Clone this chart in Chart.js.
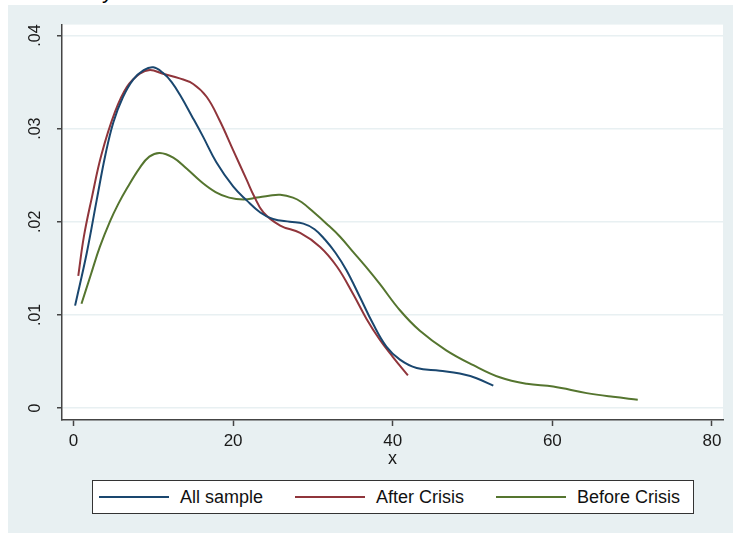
<!DOCTYPE html>
<html>
<head>
<meta charset="utf-8">
<script src="https://cdn.jsdelivr.net/npm/chart.js@4.4.1/dist/chart.umd.min.js"></script>
<style>
	html, body { margin:0; padding:0; width:733px; height:533px; overflow:hidden; background:#fff; font-family:'Liberation Sans', Arial, sans-serif; }
	.cutTitle { position:absolute; left:102px; top:-20px; font-size:22px; line-height:22px; color:#000; }
	.graphWrap { position:absolute; left:8px; top:5px; width:725px; height:528px; background:#e8f0f2; }
	.graphWrap canvas { position:absolute; left:0; top:0; }
	.graphLegendBox { position:absolute; left:84px; top:475px; width:600px; height:32px; border:1px solid #333; background:#fff; }
	.graphLegendBox ul { list-style:none; margin:0; padding:0 0 0 6px; height:100%; display:flex; align-items:center; }
	.graphLegendBox li { display:flex; align-items:center; margin-right:32px; font-size:18px; color:#111; white-space:nowrap; }
	.graphLegendBox li span { display:inline-block; width:70px; height:2px; margin-right:11px; }
</style>
</head>
<body>
<div class="cutTitle">y</div>
<div class="graphWrap" id="wrap">
	<canvas id="densityChart" width="725" height="528"></canvas>
</div>
<script>
// curves
var allX = [0.2, 1.65, 2.9, 4.0, 5.0, 6.2, 7.5, 8.8, 10.0, 11.2, 12.3, 13.5, 14.8, 16.2, 17.9, 20.0, 21.7, 23.4, 25.0, 27.1, 28.8, 30.2, 31.5, 32.8, 34.2, 35.9, 37.5, 39.2, 40.9, 43.0, 45.9, 48.4, 50.5, 52.6];
var allY = [0.0110, 0.0166, 0.0223, 0.0272, 0.0307, 0.0334, 0.0353, 0.0363, 0.0366, 0.0360, 0.0350, 0.0334, 0.0314, 0.0292, 0.0264, 0.0238, 0.0223, 0.0210, 0.0203, 0.0200, 0.0198, 0.0192, 0.0181, 0.0167, 0.0148, 0.0119, 0.0091, 0.0066, 0.0052, 0.0043, 0.0040, 0.0037, 0.0032, 0.0024];

var afterX = [0.6, 1.3, 2.3, 3.5, 5.2, 6.7, 8.3, 9.6, 11.2, 13.3, 15.0, 16.7, 18.3, 20.0, 21.7, 22.6, 23.8, 25.9, 28.4, 30.9, 33.0, 35.0, 36.7, 38.4, 40.0, 41.9];
var afterY = [0.0142, 0.0184, 0.0226, 0.0272, 0.0318, 0.0345, 0.0359, 0.0363, 0.0359, 0.0354, 0.0348, 0.0334, 0.0309, 0.0277, 0.0245, 0.0228, 0.0210, 0.0196, 0.0188, 0.0173, 0.0152, 0.0123, 0.0096, 0.0073, 0.0055, 0.0035];

var beforeX = [1.0, 2.2, 3.3, 4.6, 5.6, 6.7, 8.3, 9.5, 10.8, 12.5, 14.2, 16.0, 17.8, 19.5, 21.3, 23.0, 24.5, 25.9, 27.5, 28.6, 30.0, 31.7, 33.4, 35.0, 36.7, 38.4, 40.9, 43.4, 46.7, 50.1, 53.4, 56.8, 60.1, 64.3, 67.6, 70.7];
var beforeY = [0.0112, 0.0144, 0.0173, 0.0201, 0.0219, 0.0236, 0.0258, 0.0270, 0.0274, 0.0269, 0.0257, 0.0243, 0.0232, 0.0226, 0.0224, 0.0226, 0.0228, 0.0229, 0.0226, 0.0221, 0.0211, 0.0198, 0.0184, 0.0168, 0.0151, 0.0133, 0.0105, 0.0083, 0.0062, 0.0046, 0.0033, 0.0026, 0.0023, 0.0016, 0.0012, 0.0009];

var seriesNames = ['All sample', 'After Crisis', 'Before Crisis'];
var xTicks = [0, 20, 40, 60, 80];
var yTicks = [0, 0.01, 0.02, 0.03, 0.04];

// stata s2color: navy, maroon, forest_green
var lineColor = ['#1a476f', '#90353b', '#55752f'];
var fontFamily = "'Liberation Sans', Arial, sans-serif";

var toPoints = function(xs, ys) {
	var pts = [];
	for (var i = 0; i < xs.length; i++) {
		pts.push({ x: xs[i], y: ys[i] });
	}
	return pts;
};

var seriesData = [toPoints(allX, allY), toPoints(afterX, afterY), toPoints(beforeX, beforeY)];
var datasets = [];
for (var i = 0; i < seriesData.length; i++) {
	datasets.push({
		label: seriesNames[i],
		data: seriesData[i],
		borderColor: lineColor[i],
		backgroundColor: lineColor[i],
		borderWidth: 2,
		pointRadius: 0,
		tension: 0.4,
		fill: false
	});
}

// white plot region on the bluish graph region
var plotBgPlugin = {
	id: 'plotBg',
	beforeDraw: function(chart) {
		var a = chart.chartArea;
		var ctx = chart.ctx;
		ctx.save();
		ctx.fillStyle = '#ffffff';
		ctx.fillRect(a.left, a.top, a.right - a.left, a.bottom - a.top);
		ctx.restore();
	}
};

Chart.defaults.font.family = fontFamily;

var chartSet = new Chart(document.getElementById('densityChart'), {
	type: 'line',
	data: { datasets: datasets },
	plugins: [plotBgPlugin],
	options: {
		responsive: false,
		animation: false,
		devicePixelRatio: 1,
		layout: { padding: { top: 19, right: 10, left: 0, bottom: 0 } },
		scales: {
			x: {
				type: 'linear',
				min: -1.44,
				max: 81.38,
				afterBuildTicks: function(scale) {
					scale.ticks = xTicks.map(function(v) { return { value: v }; });
				},
				afterFit: function(scale) { scale.height = 113; },
				grid: { display: true, drawOnChartArea: false, drawTicks: true, tickLength: 6, tickColor: '#444', tickWidth: 1.5 },
				border: { display: true, color: '#444', width: 1.5 },
				ticks: { color: '#1a1a1a', font: { size: 17 }, padding: 5, maxRotation: 0, autoSkip: false },
				title: { display: true, text: 'x', color: '#1a1a1a', font: { size: 18 }, padding: { top: 0, bottom: 63 } }
			},
			y: {
				min: -0.001287,
				max: 0.04118,
				afterBuildTicks: function(scale) {
					scale.ticks = yTicks.map(function(v) { return { value: v }; });
				},
				afterFit: function(scale) { scale.width = 54; },
				grid: { color: '#e8f0f2', lineWidth: 1.5, drawTicks: true, tickLength: 5, tickColor: '#444', tickWidth: 1.5 },
				border: { display: true, color: '#444', width: 1.5 },
				ticks: {
					color: '#1a1a1a',
					font: { size: 16 },
					padding: 10,
					minRotation: 90,
					maxRotation: 90,
					crossAlign: 'center',
					autoSkip: false,
					callback: function(value) {
						return value === 0 ? '0' : value.toFixed(2).replace(/^0/, '');
					}
				}
			}
		},
		plugins: {
			legend: { display: false },
			tooltip: { enabled: false }
		}
	}
});

// legend box below the plot, built from the chart's own labels
var creatLegendFn = function() {
	var wrap = document.getElementById('wrap');
	var labelItems = chartSet.options.plugins.legend.labels.generateLabels(chartSet);
	var html = '<div class="graphLegendBox"><ul>';
	for (var i = 0; i < labelItems.length; i++) {
		html += '<li><span style="background-color:' + labelItems[i].strokeStyle + '"></span>' + labelItems[i].text + '</li>';
	}
	html += '</ul></div>';
	wrap.insertAdjacentHTML('beforeend', html);
};
creatLegendFn();
</script>
</body>
</html>
